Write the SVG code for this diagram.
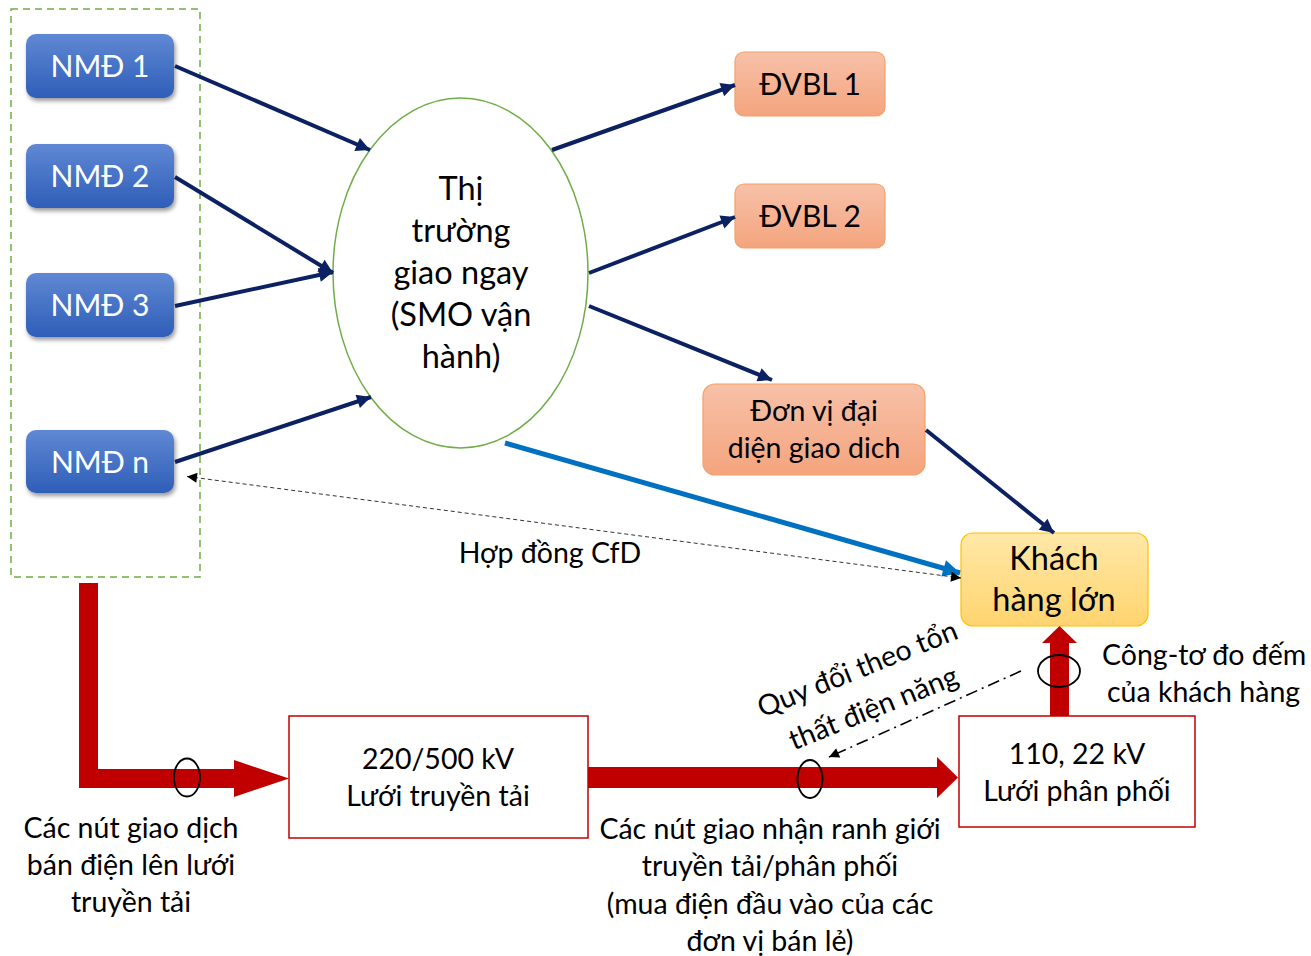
<svg xmlns="http://www.w3.org/2000/svg" width="1311" height="956" viewBox="0 0 1311 956">
<defs>
<style>
text{font-family:Lato,"Noto Sans",sans-serif;fill:#000;}
.w{fill:#fff;font-size:30px;text-anchor:middle;}
.c{text-anchor:middle;}
.t26{font-size:28.5px;}
.t30{font-size:32.5px;}
.t29{font-size:30px;}
.nav{stroke:#0b2162;stroke-width:4;fill:none;marker-end:url(#an);}
</style>
<linearGradient id="gb" x1="0" y1="0" x2="0" y2="1"><stop offset="0" stop-color="#6088d4"/><stop offset="1" stop-color="#2e5eb8"/></linearGradient>
<linearGradient id="go" x1="0" y1="0" x2="0" y2="1"><stop offset="0" stop-color="#f7c1a8"/><stop offset="1" stop-color="#f4a47e"/></linearGradient>
<linearGradient id="gy" x1="0" y1="0" x2="0" y2="1"><stop offset="0" stop-color="#ffe8a8"/><stop offset="1" stop-color="#ffd46e"/></linearGradient>
<filter id="sh" x="-10%" y="-10%" width="130%" height="140%"><feDropShadow dx="1.5" dy="3" stdDeviation="2" flood-color="#000" flood-opacity="0.4"/></filter>
<marker id="an" viewBox="0 0 10 10" refX="10" refY="5" markerWidth="18" markerHeight="14" markerUnits="userSpaceOnUse" orient="auto"><path d="M0,0 L10,5 L0,10 Z" fill="#0b2162"/></marker>
<marker id="ab" viewBox="0 0 10 10" refX="10" refY="5" markerWidth="20" markerHeight="17" markerUnits="userSpaceOnUse" orient="auto"><path d="M0,0 L10,5 L0,10 Z" fill="#0070c0"/></marker>
<marker id="ak" viewBox="0 0 10 10" refX="10" refY="5" markerWidth="11" markerHeight="10" markerUnits="userSpaceOnUse" orient="auto-start-reverse"><path d="M0,0 L10,5 L0,10 Z" fill="#000"/></marker>
</defs>
<rect width="1311" height="956" fill="#fff"/>

<g id="group-nmd">
<rect x="11" y="9" width="189" height="568" fill="none" stroke="#70ad47" stroke-width="1.5" stroke-dasharray="7,5"/>
</g>
<g id="nmd1"><rect x="26" y="34" width="148" height="64" rx="10" fill="url(#gb)" filter="url(#sh)"/><text class="w" x="100" y="77">NMĐ 1</text></g>
<g id="nmd2"><rect x="26" y="144" width="148" height="64" rx="10" fill="url(#gb)" filter="url(#sh)"/><text class="w" x="100" y="187">NMĐ 2</text></g>
<g id="nmd3"><rect x="26" y="273" width="148" height="64" rx="10" fill="url(#gb)" filter="url(#sh)"/><text class="w" x="100" y="316">NMĐ 3</text></g>
<g id="nmdn"><rect x="26" y="430" width="148" height="63" rx="10" fill="url(#gb)" filter="url(#sh)"/><text class="w" x="100" y="473">NMĐ n</text></g>

<g id="spot-market">
<ellipse cx="460.5" cy="273" rx="127.5" ry="175" fill="#fff" stroke="#70ad47" stroke-width="1.5"/>
<text class="c t30" x="461" y="200">Thị</text>
<text class="c t30" x="461" y="242">trường</text>
<text class="c t30" x="461" y="284">giao ngay</text>
<text class="c t30" x="461" y="326">(SMO vận</text>
<text class="c t30" x="461" y="368">hành)</text>
</g>

<g id="dvbl1"><rect x="735" y="52" width="150" height="64" rx="9" fill="url(#go)" stroke="#f4a068" stroke-width="1.2"/><text class="c t29" x="810" y="95">ĐVBL 1</text></g>
<g id="dvbl2"><rect x="735" y="184" width="150" height="64" rx="9" fill="url(#go)" stroke="#f4a068" stroke-width="1.2"/><text class="c t29" x="810" y="227">ĐVBL 2</text></g>
<g id="dvdd"><rect x="703" y="384" width="222" height="91" rx="12" fill="url(#go)" stroke="#f4a068" stroke-width="1.2"/><text class="c t26" x="814" y="421">Đơn vị đại</text><text class="c t26" x="814" y="458">diện giao dich</text></g>
<g id="khl"><rect x="961" y="533" width="187" height="93" rx="12" fill="url(#gy)" stroke="#ffc000" stroke-width="1.2"/><text class="c t30" x="1054" y="570">Khách</text><text class="c t30" x="1054" y="611">hàng lớn</text></g>

<g id="grid-tx"><rect x="289" y="716" width="299" height="122" fill="#fff" stroke="#c00000" stroke-width="1.5"/><text class="c t26" x="438" y="769">220/500 kV</text><text class="c t26" x="438" y="806">Lưới truyền tải</text></g>
<g id="grid-dx"><rect x="959" y="716" width="236" height="111" fill="#fff" stroke="#c00000" stroke-width="1.5"/><text class="c t26" x="1077" y="764">110, 22 kV</text><text class="c t26" x="1077" y="801">Lưới phân phối</text></g>

<g id="connectors">
<line class="nav" x1="175" y1="66" x2="370" y2="150"/>
<line class="nav" x1="175" y1="177" x2="333" y2="273"/>
<line class="nav" x1="175" y1="306" x2="333" y2="272"/>
<line class="nav" x1="175" y1="462" x2="371" y2="397"/>
<line class="nav" x1="552" y1="150" x2="735" y2="85"/>
<line class="nav" x1="589" y1="273" x2="735" y2="217"/>
<line class="nav" x1="589" y1="306" x2="772" y2="380"/>
<line class="nav" x1="926" y1="430" x2="1054" y2="533"/>
<line x1="505" y1="443" x2="960" y2="573" stroke="#0070c0" stroke-width="5" marker-end="url(#ab)"/>
<line x1="187" y1="476.5" x2="961" y2="578" stroke="#333" stroke-width="1" stroke-dasharray="4,3" marker-start="url(#ak)" marker-end="url(#ak)"/>
<path d="M79,583 H98 V769 H234 V760 L289,778.5 L234,797 V788 H79 Z" fill="#c00000"/>
<path d="M588,767 H937 V757 L958,777.5 L937,798 V788 H588 Z" fill="#c00000"/>
<path d="M1050,716 V643 H1042 L1059.5,626 L1077,643 H1069 V716 Z" fill="#c00000"/>
<ellipse cx="187" cy="777.5" rx="13" ry="19" fill="none" stroke="#000" stroke-width="1.8"/>
<ellipse cx="810" cy="779" rx="12.5" ry="19" fill="none" stroke="#000" stroke-width="1.8"/>
<ellipse cx="1059" cy="671" rx="21" ry="16" fill="none" stroke="#000" stroke-width="1.8"/>
<line x1="1021" y1="671" x2="829" y2="757" stroke="#000" stroke-width="1.6" stroke-dasharray="12,5,2,5" marker-end="url(#ak)"/>
</g>

<g id="labels">
<text class="c t26" x="550" y="563">Hợp đồng CfD</text>
<text class="t26" x="1102" y="665">Công-tơ đo đếm</text>
<text class="t26" x="1107" y="702">của khách hàng</text>
<text class="c t26" transform="translate(861,678) rotate(-22)">Quy đổi theo tổn</text>
<text class="c t26" transform="translate(877,717) rotate(-22)">thất điện năng</text>
<text class="c t26" x="131" y="838">Các nút giao dịch</text>
<text class="c t26" x="131" y="875">bán điện lên lưới</text>
<text class="c t26" x="131" y="912">truyền tải</text>
<text class="c t26" x="770" y="839">Các nút giao nhận ranh giới</text>
<text class="c t26" x="770" y="876">truyền tải/phân phối</text>
<text class="c t26" x="770" y="914">(mua điện đầu vào của các</text>
<text class="c t26" x="770" y="951">đơn vị bán lẻ)</text>
</g>
</svg>
